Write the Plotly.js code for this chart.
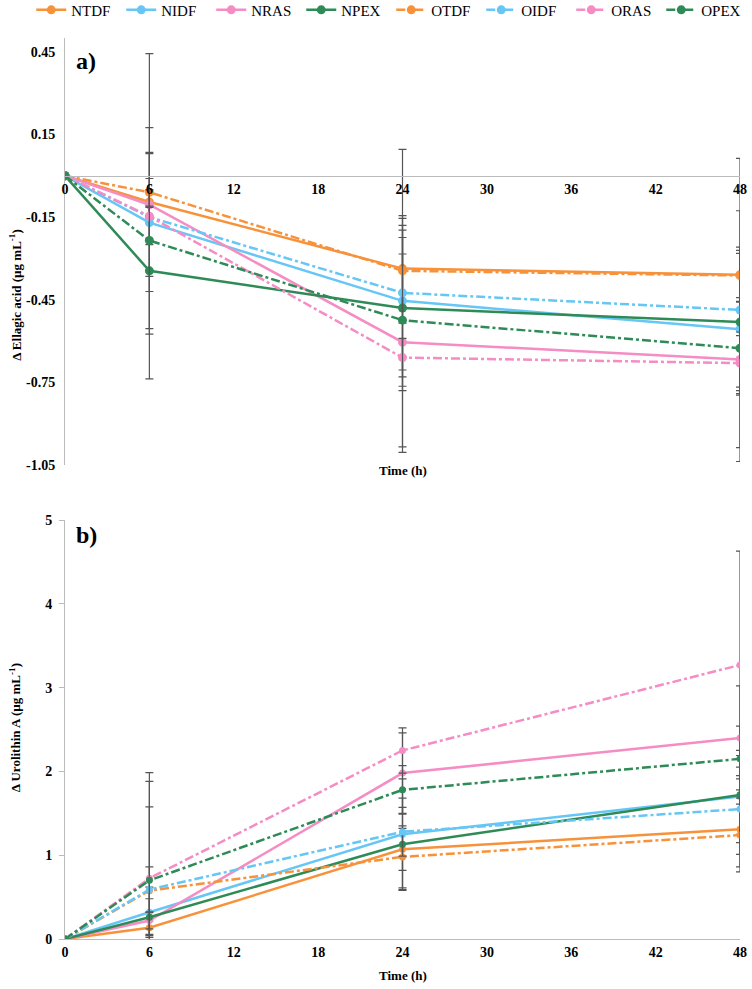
<!DOCTYPE html>
<html>
<head>
<meta charset="utf-8">
<script src="https://cdn.plot.ly/plotly-3.0.1.min.js"></script>
<style>
  body { margin: 0; background: #fff; }
  #chart { width: 752px; height: 989px; }
</style>
</head>
<body>
<div id="chart"></div>
<script>
// sampling times (h)
var hours = [0, 6, 24, 48];
var names = ["NTDF", "NIDF", "NRAS", "NPEX", "OTDF", "OIDF", "ORAS", "OPEX"];

// a) change in ellagic acid, ug/mL
var eaNTDF = [0, -0.095, -0.337, -0.359];
var eaNIDF = [0, -0.17, -0.454, -0.557];
var eaNRAS = [0, -0.105, -0.604, -0.667];
var eaNPEX = [0, -0.345, -0.48, -0.531];
var eaOTDF = [0, -0.06, -0.345, -0.362];
var eaOIDF = [0, -0.15, -0.425, -0.487];
var eaORAS = [0, -0.147, -0.66, -0.68];
var eaOPEX = [0, -0.235, -0.524, -0.626];

var eaErrNTDF = [0, 0.27, 0.14, 0.1];
var eaErrNIDF = [0, 0.25, 0.55, 0.43];
var eaErrNRAS = [0, 0.05, 0.38, 0.1];
var eaErrNPEX = [0, 0.23, 0.3, 0.26];
var eaErrOTDF = [0, 0.05, 0.19, 0.08];
var eaErrOIDF = [0, 0.1, 0.28, 0.55];
var eaErrORAS = [0, 0.59, 0.07, 0.1];
var eaErrOPEX = [0, 0.32, 0.24, 0.17];

// b) change in urolithin A, ug/mL
var uaNTDF = [0, 0.135, 1.07, 1.31];
var uaNIDF = [0, 0.32, 1.25, 1.70];
var uaNRAS = [0, 0.22, 1.98, 2.40];
var uaNPEX = [0, 0.26, 1.13, 1.72];
var uaOTDF = [0, 0.577, 0.98, 1.24];
var uaOIDF = [0, 0.59, 1.28, 1.55];
var uaORAS = [0, 0.725, 2.25, 3.27];
var uaOPEX = [0, 0.70, 1.78, 2.15];

var uaErrNTDF = [0, 0.08, 0.25, 0.3];
var uaErrNIDF = [0, 0.3, 0.66, 0.84];
var uaErrNRAS = [0, 0.1, 0.48, 0.62];
var uaErrNPEX = [0, 0.22, 0.55, 0.47];
var uaErrOTDF = [0, 1.0, 0.37, 0.44];
var uaErrOIDF = [0, 0.27, 0.29, 0.4];
var uaErrORAS = [0, 1.26, 0.27, 1.36];
var uaErrOPEX = [0, 1.18, 0.29, 0.1];

var eaTicks = [-1.05, -0.75, -0.45, -0.15, 0.15, 0.45];
var uaTicks = [0, 1, 2, 3, 4, 5];
var timeTicks = [0, 6, 12, 18, 24, 30, 36, 42, 48];

var colors = ["#F7923A", "#66C6F5", "#F58CC4", "#2E8B57", "#F7923A", "#66C6F5", "#F58CC4", "#2E8B57"];
var dashes = ["solid", "solid", "solid", "solid", "dashdot", "dashdot", "dashdot", "dashdot"];

var eaSeries = [eaNTDF, eaNIDF, eaNRAS, eaNPEX, eaOTDF, eaOIDF, eaORAS, eaOPEX];
var eaErrs = [eaErrNTDF, eaErrNIDF, eaErrNRAS, eaErrNPEX, eaErrOTDF, eaErrOIDF, eaErrORAS, eaErrOPEX];
var uaSeries = [uaNTDF, uaNIDF, uaNRAS, uaNPEX, uaOTDF, uaOIDF, uaORAS, uaOPEX];
var uaErrs = [uaErrNTDF, uaErrNIDF, uaErrNRAS, uaErrNPEX, uaErrOTDF, uaErrOIDF, uaErrORAS, uaErrOPEX];

var serif = "Liberation Serif, Times New Roman, serif";
var data = [];

names.forEach(function (n, i) {
  data.push({
    x: hours, y: eaSeries[i], name: n, type: "scatter", mode: "lines+markers",
    xaxis: "x", yaxis: "y",
    line: {color: colors[i], width: 2.5, dash: dashes[i]},
    marker: {color: colors[i], size: 9},
    error_y: {type: "data", array: eaErrs[i], color: "#555", thickness: 1.2, width: 4}
  });
});
names.forEach(function (n, i) {
  data.push({
    x: hours, y: uaSeries[i], name: n, type: "scatter", mode: "lines+markers",
    xaxis: "x2", yaxis: "y2", showlegend: false,
    line: {color: colors[i], width: 2.5, dash: dashes[i]},
    marker: {color: colors[i], size: 7},
    error_y: {type: "data", array: uaErrs[i], color: "#555", thickness: 1.2, width: 4}
  });
});

// panel a: time axis crosses at y = 0
var aDomain = [0.526, 1];
var aRange = [-1.05, 0.5];
var zeroPos = aDomain[0] + (0 - aRange[0]) / (aRange[1] - aRange[0]) * (aDomain[1] - aDomain[0]);

var tickFont = {family: serif, size: 14, color: "#000", weight: 700};

var layout = {
  width: 752, height: 989,
  margin: {l: 65, r: 12, t: 38, b: 50, autoexpand: false},
  paper_bgcolor: "#fff", plot_bgcolor: "#fff",
  font: {family: serif, color: "#000"},
  showlegend: true,
  legend: {
    orientation: "h", x: -0.05, xanchor: "left", y: 1.031, yanchor: "middle",
    entrywidth: 45, itemwidth: 30, tracegroupgap: 0,
    font: {family: serif, size: 15, color: "#000"}, bgcolor: "rgba(0,0,0,0)"
  },
  xaxis: {
    range: [0, 48], anchor: "free", position: zeroPos,
    tickvals: timeTicks, ticks: "", showgrid: false, zeroline: false,
    showline: true, linecolor: "#bbb", linewidth: 1, tickfont: tickFont
  },
  yaxis: {
    domain: aDomain, range: aRange, tickvals: eaTicks,
    ticktext: eaTicks.map(function (v) { return v.toFixed(2); }),
    showgrid: false, zeroline: false, showline: true, linecolor: "#bbb",
    ticks: "", ticklabelstandoff: 6, tickfont: tickFont
  },
  xaxis2: {
    range: [0, 48], anchor: "y2", tickvals: timeTicks, ticks: "",
    showgrid: false, zeroline: false, showline: true, linecolor: "#bbb",
    tickfont: tickFont
  },
  yaxis2: {
    domain: [0, 0.465], range: [0, 5], tickvals: uaTicks,
    showgrid: false, zeroline: false, showline: true, linecolor: "#bbb",
    ticks: "outside", ticklen: 5, tickcolor: "#bbb", ticklabelstandoff: 4, tickfont: tickFont
  },
  annotations: [
    {text: "a)", xref: "paper", yref: "paper", x: 0.013, y: 0.975, xanchor: "left", yanchor: "middle",
     showarrow: false, font: {family: serif, size: 24, weight: 700}},
    {text: "b)", xref: "paper", yref: "paper", x: 0.013, y: 0.448, xanchor: "left", yanchor: "middle",
     showarrow: false, font: {family: serif, size: 24, weight: 700}},
    {text: "Time (h)", xref: "paper", yref: "paper", x: 0.5, y: 0.5205, xanchor: "center", yanchor: "middle",
     showarrow: false, font: {family: serif, size: 13, weight: 700}},
    {text: "Time (h)", xref: "paper", yref: "paper", x: 0.5, y: -0.04, xanchor: "center", yanchor: "middle",
     showarrow: false, font: {family: serif, size: 13, weight: 700}},
    {text: "\u0394 Ellagic acid (\u00b5g mL<sup>-1</sup>)", xref: "paper", yref: "paper", x: -0.074, y: 0.715,
     xanchor: "center", yanchor: "middle", textangle: -90, showarrow: false,
     font: {family: serif, size: 13, weight: 700}},
    {text: "\u0394 Urolithin A (\u00b5g mL<sup>-1</sup>)", xref: "paper", yref: "paper", x: -0.074, y: 0.234,
     xanchor: "center", yanchor: "middle", textangle: -90, showarrow: false,
     font: {family: serif, size: 13, weight: 700}}
  ]
};

Plotly.newPlot("chart", data, layout, {displayModeBar: false, staticPlot: true});
</script>
</body>
</html>
